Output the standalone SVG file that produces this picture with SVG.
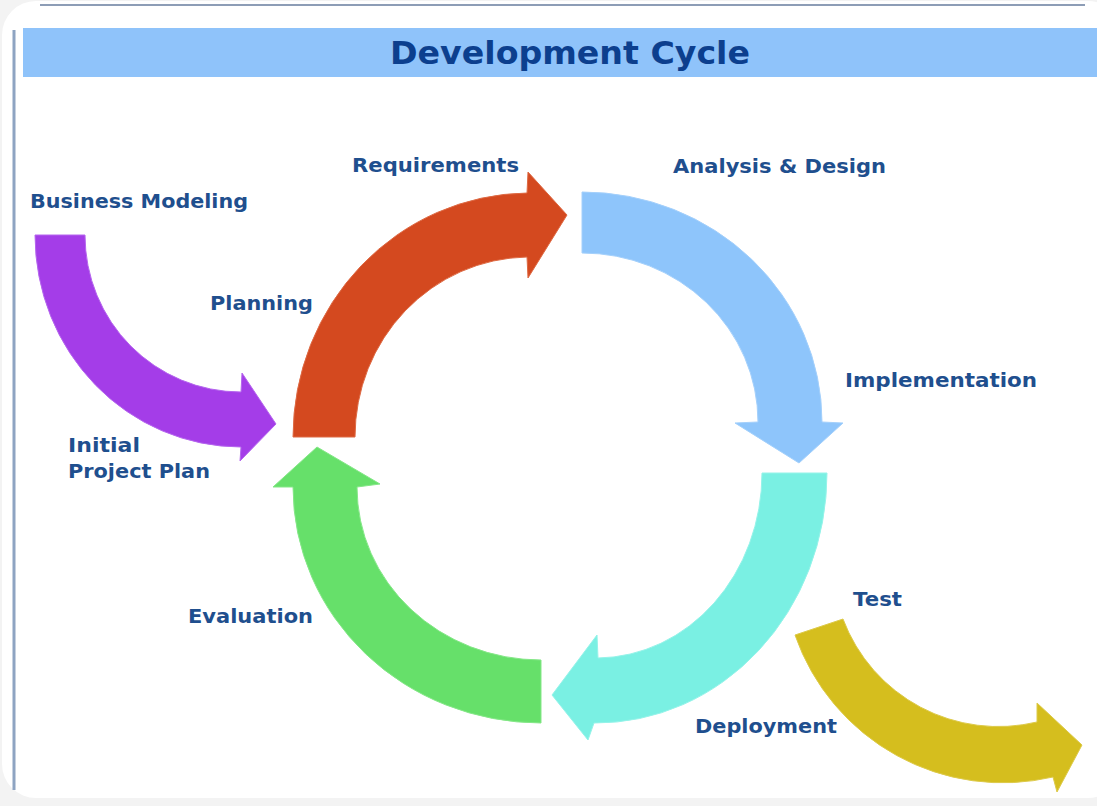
<svg xmlns="http://www.w3.org/2000/svg" width="1097" height="806" viewBox="0 0 1097 806">
<style>
.lbl{font-family:"DejaVu Sans","Liberation Sans",sans-serif;font-weight:bold;font-size:20px;fill:#1f4f8e}
.ttl{font-family:"DejaVu Sans","Liberation Sans",sans-serif;font-weight:bold;font-size:32px;fill:#0c3f8e}
.arw{stroke-width:1;stroke-linejoin:miter}
</style>
<rect x="0" y="0" width="1097" height="806" fill="#f3f3f3"/>
<rect x="2" y="1" width="1120" height="797" rx="34" fill="#ffffff"/>
<g id="frame">
<line x1="40" y1="5" x2="1085" y2="5" stroke="#8d9db6" stroke-width="2"/>
<line x1="14" y1="30" x2="14" y2="790" stroke="#8ea4c2" stroke-width="3"/>
<rect x="23" y="28" width="1074" height="49" fill="#8fc3fa"/>
</g>
<g id="title"><text class="ttl" x="390" y="64" textLength="360" lengthAdjust="spacingAndGlyphs">Development Cycle</text></g>
<g id="connectors">
<path class="arw" fill="#a43de8" stroke="#b566ee" d="M 85 235 A 156 157 0 0 0 241 392 L 242 373 L 276 424 L 240 461 L 241 447 A 206 212 0 0 1 35 235 Z"/>
<path class="arw" fill="#d4491f" stroke="#de6a44" d="M 293 437 A 237 244 0 0 1 527 193 L 528 172 L 567 215 L 528 278 L 527 257 A 175 180 0 0 0 355 437 Z"/>
<path class="arw" fill="#8ec5fb" stroke="#a4d0fb" d="M 582 192 A 240 230 0 0 1 822 422 L 843 423 L 799 463 L 735 423 L 758 422 A 176 169 0 0 0 582 253 Z"/>
<path class="arw" fill="#7af0e3" stroke="#95f3e9" d="M 827 473 A 231 250 0 0 1 594 723 L 588 740 L 552 695 L 597 635 L 598 658 A 166 185 0 0 0 762 473 Z"/>
<path class="arw" fill="#66e06a" stroke="#85e788" d="M 541 723 A 248 236 0 0 1 293 487 L 273 487 L 317 447 L 380 484 L 357 487 A 184 173 0 0 0 541 660 Z"/>
<path class="arw" fill="#d5be1e" stroke="#ddca4a" d="M 795 635 A 220 220 0 0 0 1053 777 L 1057 792 L 1082 745 L 1037 703 L 1037 722 A 166 166 0 0 1 843 619 Z"/>
</g>
<g id="requirements"><text class="lbl" x="352" y="172" textLength="167" lengthAdjust="spacingAndGlyphs">Requirements</text></g>
<g id="analysis-design"><text class="lbl" x="673" y="173" textLength="213" lengthAdjust="spacingAndGlyphs">Analysis &amp; Design</text></g>
<g id="business-modeling"><text class="lbl" x="30" y="208" textLength="218" lengthAdjust="spacingAndGlyphs">Business Modeling</text></g>
<g id="planning"><text class="lbl" x="210" y="310" textLength="103" lengthAdjust="spacingAndGlyphs">Planning</text></g>
<g id="implementation"><text class="lbl" x="845" y="387" textLength="192" lengthAdjust="spacingAndGlyphs">Implementation</text></g>
<g id="initial-project-plan">
<text class="lbl" x="68" y="452" textLength="72" lengthAdjust="spacingAndGlyphs">Initial</text>
<text class="lbl" x="68" y="478" textLength="142" lengthAdjust="spacingAndGlyphs">Project Plan</text>
</g>
<g id="evaluation"><text class="lbl" x="188" y="623" textLength="125" lengthAdjust="spacingAndGlyphs">Evaluation</text></g>
<g id="test"><text class="lbl" x="853" y="606" textLength="49" lengthAdjust="spacingAndGlyphs">Test</text></g>
<g id="deployment"><text class="lbl" x="695" y="733" textLength="142" lengthAdjust="spacingAndGlyphs">Deployment</text></g>
</svg>
